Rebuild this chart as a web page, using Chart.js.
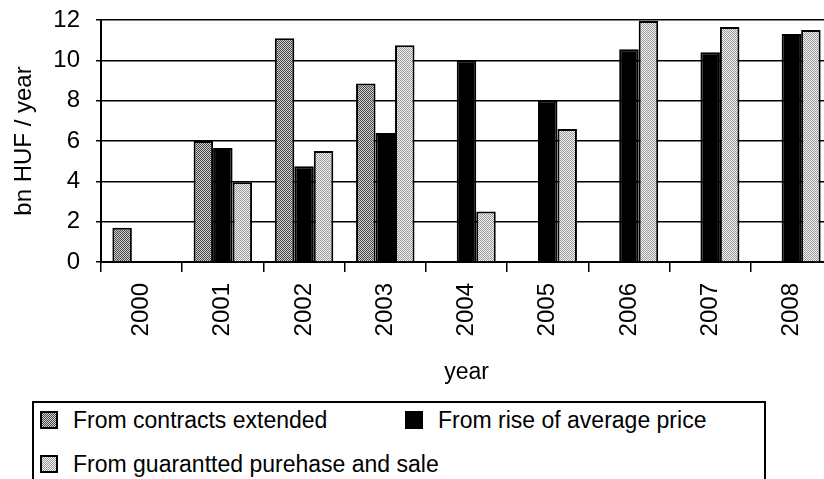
<!DOCTYPE html>
<html>
<head>
<meta charset="utf-8">
<script src="https://cdn.jsdelivr.net/npm/chart.js@4/dist/chart.umd.min.js"></script>
<style>
  html, body { margin:0; padding:0; background:#fff; overflow:hidden; width:824px; height:479px; }
  #wrap { position:relative; width:824px; height:479px; }
  #chart { position:absolute; left:0; top:0; }
  .lg-box { position:absolute; left:32px; top:401px; width:734px; height:90px; border:2px solid #000; box-sizing:border-box; }
  .lg-sw { position:absolute; width:18px; height:18px; border:2px solid #000; box-sizing:border-box; }
  .lg-tx { position:absolute; font:23px "Liberation Sans", Arial, sans-serif; line-height:28px; color:#000; white-space:nowrap; }
</style>
</head>
<body>
<div id="wrap">
  <canvas id="chart" width="840" height="400"></canvas>
  <div class="lg-box"></div>
  <div id="legend"></div>
</div>
<script>
const years = ['2000','2001','2002','2003','2004','2005','2006','2007','2008'];
const contractsExtended = [1.7, 6.0, 11.1, 8.85, 0, 0, 0, 0, 0];
const riseOfAveragePrice = [0, 5.65, 4.75, 6.4, 10.0, 8.0, 10.55, 10.4, 11.3];
const guaranteedPurchase = [0, 3.95, 5.5, 10.75, 2.5, 6.6, 11.95, 11.65, 11.5];
const seriesLabels = ['From contracts extended', 'From rise of average price', 'From guarantted purehase and sale'];
const yTicks = [0, 2, 4, 6, 8, 10, 12];

const FONT = '"Liberation Sans", Arial, sans-serif';

// small dotted fills like the print screen tones
function dotPattern(bg, fg, n) {
  const c = document.createElement('canvas'); c.width = n; c.height = n;
  const g = c.getContext('2d');
  g.fillStyle = bg; g.fillRect(0, 0, n, n);
  g.fillStyle = fg;
  for (let y = 0; y < n; y++) for (let x = 0; x < n; x++) if ((x + y) % 2 === 0) g.fillRect(x, y, 1, 1);
  return c;
}
const darkTile = dotPattern('#cfcfcf', '#4a4a4a', 2);
const lightTile = dotPattern('#f2f2f2', '#9a9a9a', 2);
const ctx = document.getElementById('chart').getContext('2d');
const fills = [ctx.createPattern(darkTile, 'repeat'), '#000', ctx.createPattern(lightTile, 'repeat')];
const swatches = [`url(${darkTile.toDataURL()})`, '', `url(${lightTile.toDataURL()})`];

const chart = new Chart(ctx, {
  type: 'bar',
  data: {
    labels: years,
    datasets: [contractsExtended, riseOfAveragePrice, guaranteedPurchase].map((d, i) => ({
      label: seriesLabels[i], data: d, backgroundColor: fills[i], borderColor: '#000', borderWidth: 2,
      categoryPercentage: 0.72, barPercentage: 1.0
    }))
  },
  options: {
    responsive: false, animation: false,
    layout: { padding: { top: 20, right: 8, left: 0, bottom: 0 } },
    plugins: { legend: { display: false }, tooltip: { enabled: false } },
    scales: {
      x: {
        afterFit: s => { s.height = 138; },
        grid: { drawOnChartArea: false, drawTicks: true, tickLength: 10, color: '#000', lineWidth: 1.5, offset: true },
        border: { color: '#000', width: 2 },
        ticks: { color: '#000', font: { family: FONT, size: 24 }, minRotation: 90, maxRotation: 90, padding: 11, autoSkip: false },
        title: { display: true, text: 'year', color: '#000', font: { family: FONT, size: 23 }, padding: { top: 0, bottom: 14 } }
      },
      y: {
        min: 0, max: 12,
        afterFit: s => { s.width = 101; s.paddingTop = 0; s.paddingBottom = 0; },
        afterBuildTicks: s => { s.ticks = yTicks.map(v => ({ value: v })); },
        grid: { color: '#000', lineWidth: 1.5, tickLength: 5 },
        border: { color: '#000', width: 2 },
        ticks: { color: '#000', font: { family: FONT, size: 24 }, padding: 16 },
        title: { display: true, text: 'bn HUF / year', color: '#000', font: { family: FONT, size: 24 }, padding: { top: 10, bottom: 0 } }
      }
    }
  }
});

// legend laid out as in the original two-column box
const legendPos = [[40, 411], [405, 411], [40, 455]];
document.getElementById('legend').innerHTML = seriesLabels.map((t, i) => {
  const [x, y] = legendPos[i];
  const bg = swatches[i] ? `background-image:${swatches[i]};` : 'background:#000;';
  return `<div class="lg-sw" style="left:${x}px;top:${y}px;${bg}"></div><div class="lg-tx" style="left:${x + 33}px;top:${y - 5}px">${t}</div>`;
}).join('');
</script>
</body>
</html>
